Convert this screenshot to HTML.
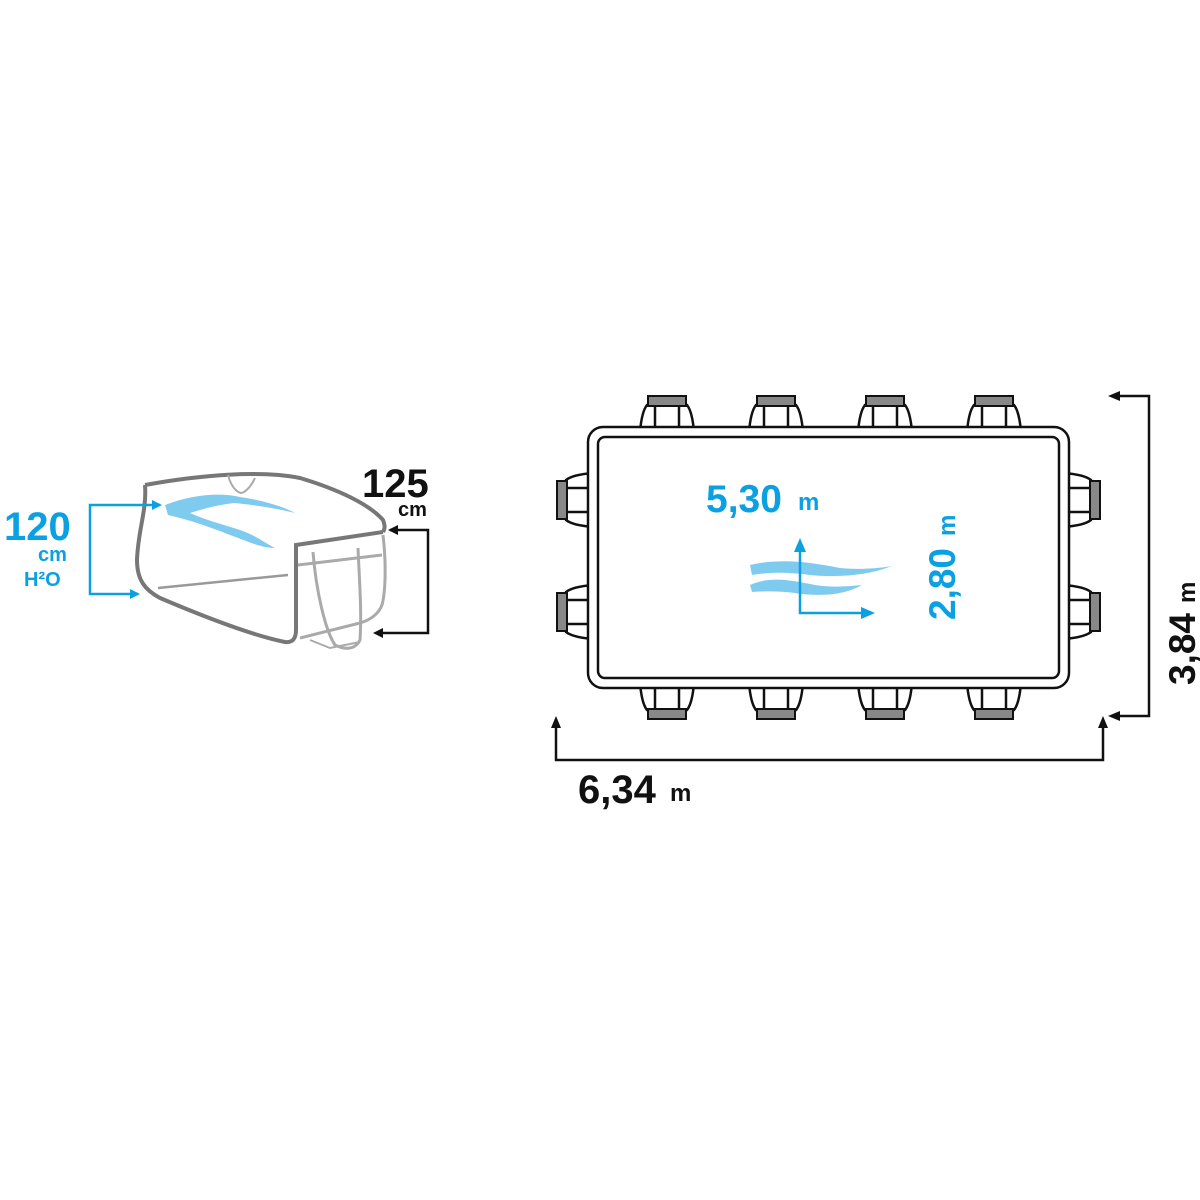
<!DOCTYPE html>
<html><head><meta charset="utf-8"><style>
html,body{margin:0;padding:0;background:#fff;}
svg{display:block;}
text{font-family:"Liberation Sans","DejaVu Sans",sans-serif;font-weight:bold;}
</style></head><body>
<svg width="1200" height="1200" viewBox="0 0 1200 1200" xmlns="http://www.w3.org/2000/svg">
<defs>
  <g id="leg">
    <path d="M-27,432 C-26,420 -24,410 -20,405 L20,405 C24,410 26,420 27,432" fill="#fff" stroke="#111" stroke-width="2.5"/>
    <rect x="-12" y="405" width="24" height="24" fill="#fff" stroke="#111" stroke-width="2.5"/>
    <rect x="-19" y="396" width="38" height="10" fill="#888" stroke="#111" stroke-width="2"/>
  </g>
</defs>

<!-- Left: pool side view -->
<path d="M145,485 C200,475 260,470 300,478 C340,490 370,505 383,520 C386,528 384,530 383,532" fill="none" stroke="#777" stroke-width="4"/>
<path d="M145,485 C147,510 138,530 137,560 C137,580 145,590 160,598 C200,615 250,635 285,642 C293,643 296,638 296,630 L296,545 L383,532" fill="none" stroke="#777" stroke-width="4"/>
<path d="M228,475 C232,490 240,495 244,492 C250,488 253,482 255,478" fill="none" stroke="#aaa" stroke-width="2"/>
<path d="M158,588 L288,575" stroke="#999" stroke-width="2.5"/>
<path d="M383,535 C386,560 386,590 382,605 C378,615 370,620 360,623 L300,638" fill="none" stroke="#aaa" stroke-width="3"/>
<path d="M298,565 L382,555" stroke="#aaa" stroke-width="3"/>
<path d="M313,552 C316,590 325,630 335,645 C345,650 355,650 360,640 C362,610 359,575 358,548" fill="none" stroke="#aaa" stroke-width="3"/>
<path d="M310,640 L330,648 L360,642" fill="none" stroke="#aaa" stroke-width="2"/>
<path d="M165,505 C190,495 220,492 240,497 C260,500 280,505 295,513 C275,508 255,505 235,503 C215,505 200,510 190,513 C205,520 225,525 240,530 C255,535 265,543 275,548 C260,548 245,540 230,535 C210,527 190,520 168,515 Z" fill="#7fcbf0"/>

<!-- 120 bracket -->
<polyline points="160,505 90,505 90,594 138,594" fill="none" stroke="#0aa0e2" stroke-width="2.5"/>
<path d="M152,500 L162,505 L152,510 Z" fill="#0aa0e2"/>
<path d="M130,589 L140,594 L130,599 Z" fill="#0aa0e2"/>
<text x="4" y="540" font-size="40" fill="#0aa0e2">120</text>
<text x="38" y="561" font-size="20" fill="#0aa0e2">cm</text>
<text x="24" y="586" font-size="20" fill="#0aa0e2">H²O</text>

<!-- 125 bracket -->
<polyline points="390,530 428,530 428,633 378,633" fill="none" stroke="#111" stroke-width="2.5"/>
<path d="M398,525 L388,530 L398,535 Z" fill="#111"/>
<path d="M383,628 L373,633 L383,638 Z" fill="#111"/>
<text x="362" y="497" font-size="40" fill="#111">125</text>
<text x="398" y="516" font-size="20" fill="#111">cm</text>

<!-- Right: top view -->
<g>
  <use href="#leg" transform="translate(667,0)"/>
  <use href="#leg" transform="translate(776,0)"/>
  <use href="#leg" transform="translate(885,0)"/>
  <use href="#leg" transform="translate(994,0)"/>
  <use href="#leg" transform="translate(667,1115) scale(1,-1)"/>
  <use href="#leg" transform="translate(776,1115) scale(1,-1)"/>
  <use href="#leg" transform="translate(885,1115) scale(1,-1)"/>
  <use href="#leg" transform="translate(994,1115) scale(1,-1)"/>
  <use href="#leg" transform="translate(161,500) rotate(-90)"/>
  <use href="#leg" transform="translate(161,612) rotate(-90)"/>
  <use href="#leg" transform="translate(1496,500) rotate(90)"/>
  <use href="#leg" transform="translate(1496,612) rotate(90)"/>
</g>
<rect x="588" y="427" width="481" height="261" rx="15" fill="#fff" stroke="#111" stroke-width="2.5"/>
<rect x="598" y="437" width="461" height="241" rx="7" fill="#fff" stroke="#111" stroke-width="2.5"/>

<text x="706" y="512" font-size="39" fill="#0aa0e2">5,30</text>
<text x="798" y="510" font-size="24" fill="#0aa0e2">m</text>
<text transform="translate(955,620) rotate(-90)" font-size="37" fill="#0aa0e2">2,80<tspan font-size="24" dx="12">m</tspan></text>
<path d="M750,565 C780,558 810,562 840,568 C860,570 880,568 892,566 C870,575 840,578 810,575 C790,572 770,572 752,575 Z" fill="#7fcbf0"/>
<path d="M750,585 C770,576 790,580 815,585 C835,588 850,586 862,585 C845,595 820,597 795,593 C780,591 765,591 752,592 Z" fill="#7fcbf0"/>
<polyline points="800,545 800,613 868,613" fill="none" stroke="#0aa0e2" stroke-width="2.5"/>
<path d="M794,552 L800,538 L806,552 Z" fill="#0aa0e2"/>
<path d="M861,607 L875,613 L861,619 Z" fill="#0aa0e2"/>

<!-- 3,84 m -->
<polyline points="1116,396 1149,396 1149,716 1116,716" fill="none" stroke="#111" stroke-width="2.5"/>
<path d="M1120,391 L1108,396 L1120,401 Z" fill="#111"/>
<path d="M1120,711 L1108,716 L1120,721 Z" fill="#111"/>
<text transform="translate(1195,685) rotate(-90)" font-size="37" fill="#111">3,84<tspan font-size="24" dx="10">m</tspan></text>

<!-- 6,34 m -->
<polyline points="556,724 556,760 1103,760 1103,724" fill="none" stroke="#111" stroke-width="2.5"/>
<path d="M551,728 L556,716 L561,728 Z" fill="#111"/>
<path d="M1098,728 L1103,716 L1108,728 Z" fill="#111"/>
<text x="578" y="803" font-size="40" fill="#111">6,34</text>
<text x="670" y="801" font-size="24" fill="#111">m</text>
</svg>
</body></html>
